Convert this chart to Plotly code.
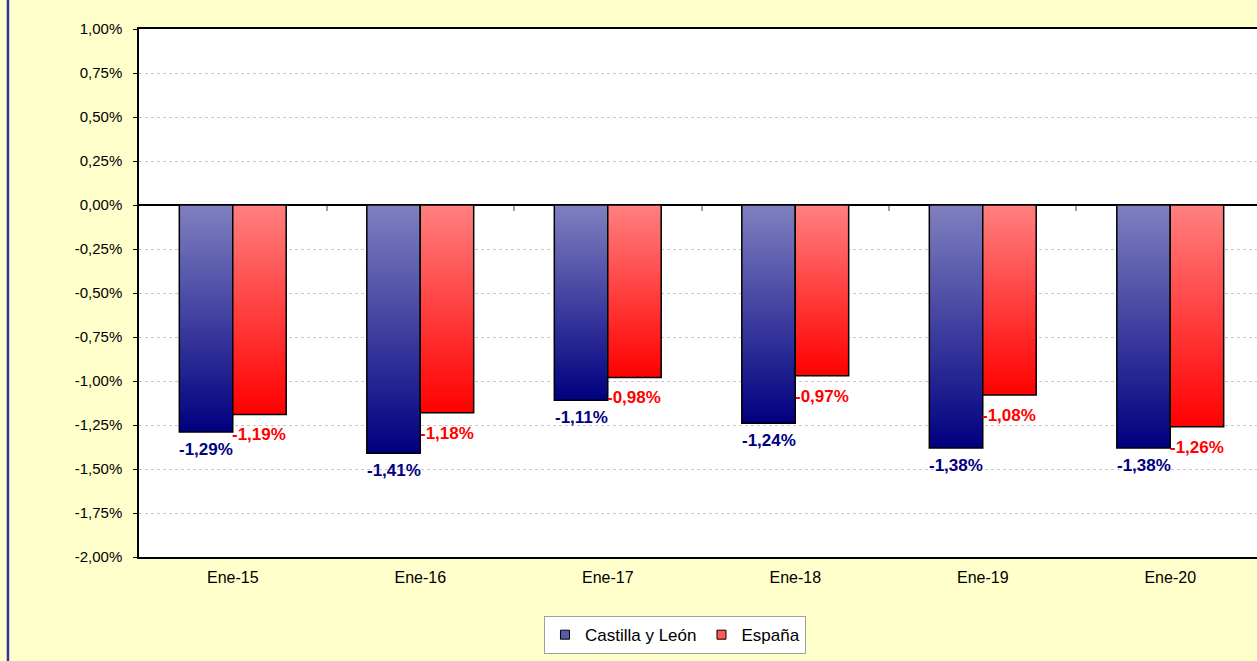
import plotly.graph_objects as go

categories = ["Ene-15", "Ene-16", "Ene-17", "Ene-18", "Ene-19", "Ene-20"]
cyl_values = [-1.29, -1.41, -1.11, -1.24, -1.38, -1.38]
esp_values = [-1.19, -1.18, -0.98, -0.97, -1.08, -1.26]
series_names = ["Castilla y León", "España"]
y_tick_vals = [1.0, 0.75, 0.5, 0.25, 0.0, -0.25, -0.5, -0.75, -1.0, -1.25, -1.5, -1.75, -2.0]
y_tick_text = ["1,00%", "0,75%", "0,50%", "0,25%", "0,00%", "-0,25%", "-0,50%", "-0,75%",
               "-1,00%", "-1,25%", "-1,50%", "-1,75%", "-2,00%"]

FONT = "Arial, 'Liberation Sans', sans-serif"
BAR_W = 0.285
series = [
    dict(name=series_names[0], values=cyl_values, offset=-1, shift=-6,
         scale=[[0, "#000080"], [1, "#8080C0"]], label="#000080", swatch="#5A5AA8"),
    dict(name=series_names[1], values=esp_values, offset=0, shift=-9,
         scale=[[0, "#FF0000"], [1, "#FF8080"]], label="#FF0000", swatch="#FF5A5A"),
]

fig = go.Figure()
annotations = []
for s in series:
    for i, v in enumerate(s["values"]):
        x0 = i + s["offset"] * BAR_W
        x1 = x0 + BAR_W
        fig.add_trace(go.Scatter(
            x=[x0, x1, x1, x0, x0], y=[0, 0, v, v, 0],
            mode="lines", fill="toself",
            fillgradient=dict(type="vertical", colorscale=s["scale"]),
            line=dict(color="#000000", width=1.5),
            showlegend=False, hoverinfo="skip",
        ))
        annotations.append(dict(
            x=(x0 + x1) / 2, y=v, xref="x", yref="y",
            text="<b>" + f"{v:.2f}".replace(".", ",") + "%</b>",
            showarrow=False, yanchor="top", yshift=s["shift"],
            font=dict(family=FONT, size=17, color=s["label"]),
        ))
    fig.add_trace(go.Scatter(
        x=[None], y=[None], mode="markers", name=s["name"],
        marker=dict(symbol="square", size=9, color=s["swatch"],
                    line=dict(color="#000000", width=1)),
    ))

fig.update_layout(
    width=1257, height=661,
    margin=dict(l=139, r=0, t=29, b=104),
    paper_bgcolor="#FFFFCC", plot_bgcolor="#FFFFFF",
    font=dict(family=FONT, size=15, color="#000000"),
    annotations=annotations,
    showlegend=True,
    legend=dict(orientation="h", x=0.4794, xanchor="center", y=-0.112, yanchor="top",
                bgcolor="#FFFFFF", bordercolor="#A0A0A0", borderwidth=1,
                font=dict(family=FONT, size=17, color="#000000"),
                itemwidth=30, tracegroupgap=0),
    xaxis=dict(
        range=[-0.5, 5.4627], tickmode="array",
        tickvals=list(range(len(categories))), ticktext=categories,
        showgrid=False, zeroline=False, ticks="", ticklabelstandoff=5,
        showline=True, linecolor="#000000", linewidth=1.5, mirror=True,
        tickfont=dict(family=FONT, size=16, color="#000000"),
    ),
    xaxis2=dict(
        overlaying="x", matches="x", anchor="free", position=0.6667,
        tickmode="array", tickvals=[k + 0.5 for k in range(len(categories))],
        ticks="outside", ticklen=5, tickcolor="#A0A0A0", tickwidth=2,
        showticklabels=False, showgrid=False, zeroline=False, showline=False,
    ),
    yaxis=dict(
        range=[-2.0, 1.0], tickmode="array", tickvals=y_tick_vals, ticktext=y_tick_text,
        showgrid=True, gridcolor="#C8C8C8", griddash="dot", gridwidth=1,
        zeroline=True, zerolinecolor="#000000", zerolinewidth=1.5,
        ticks="outside", ticklen=4, tickcolor="#000000", ticklabelstandoff=8,
        showline=True, linecolor="#000000", linewidth=1.5,
        tickfont=dict(family=FONT, size=15, color="#000000"),
    ),
    shapes=[dict(type="line", xref="paper", yref="paper",
                 x0=-0.1172, x1=-0.1172, y0=-0.2, y1=1.06,
                 line=dict(color="#3333A0", width=2.5))],
)
# dummy trace on xaxis2 so it renders its ticks
fig.add_trace(go.Scatter(x=[None], y=[None], xaxis="x2", showlegend=False, hoverinfo="skip"))

fig.write_html("out.html", config={"displayModeBar": False},
               post_script="document.body.style.margin='0';document.body.style.overflow='hidden';")
